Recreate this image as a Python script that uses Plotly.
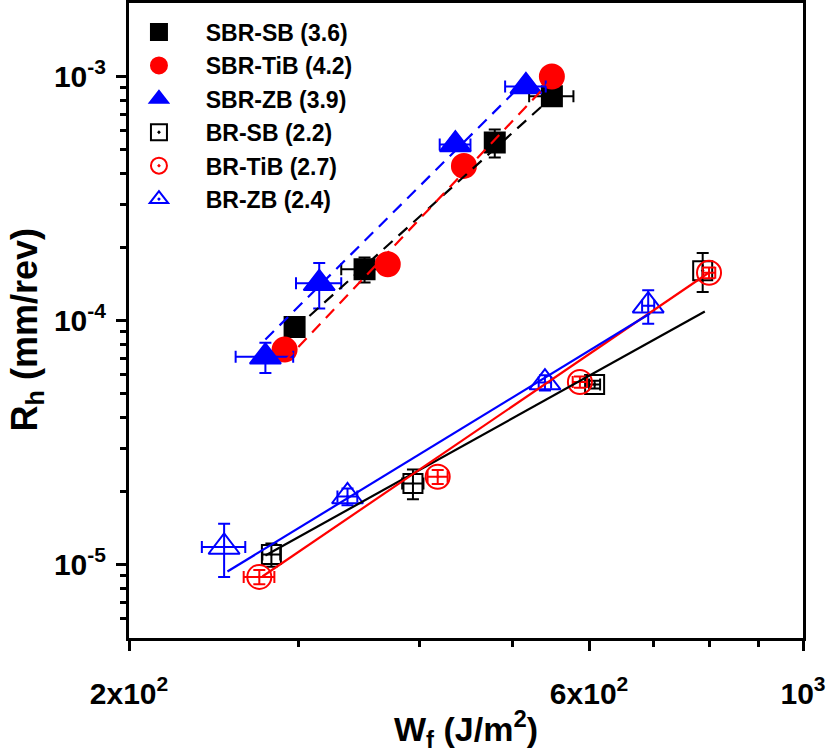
import numpy as np
import plotly.graph_objects as go

# ---------------- data ----------------
series_names = ["SBR-SB (3.6)", "SBR-TiB (4.2)", "SBR-ZB (3.9)",
                "BR-SB (2.2)", "BR-TiB (2.7)", "BR-ZB (2.4)"]

sbr_sb_x = [297, 351, 479, 549]
sbr_sb_y = [9.4e-5, 1.62e-4, 5.36e-4, 8.3e-4]
sbr_sb_xerr = [0, 19, 0, 29]
sbr_sb_yerr = [0, 1.9e-5, 7.0e-5, 3.0e-5]

sbr_tib_x = [290, 371, 445, 549]
sbr_tib_y = [7.6e-5, 1.70e-4, 4.3e-4, 1.0e-3]
sbr_tib_xerr = [0, 0, 0, 12]
sbr_tib_yerr = [0, 1.2e-5, 0, 5.0e-5]

sbr_zb_x = [277, 315, 436, 516]
sbr_zb_y = [7.1e-5, 1.42e-4, 5.26e-4, 9.1e-4]
sbr_zb_xerr = [19, 17, 16, 25]
sbr_zb_yerr = [1.0e-5, 3.0e-5, 3.0e-5, 0]

br_sb_x = [281, 394, 608, 787]
br_sb_y = [1.10e-5, 2.15e-5, 5.47e-5, 1.60e-4]
br_sb_xerr = [6, 10, 8, 0]
br_sb_yerr = [1.2e-6, 3.0e-6, 2.0e-6, 2.9e-5]

br_tib_x = [273, 418, 587, 799]
br_tib_y = [8.9e-6, 2.29e-5, 5.6e-5, 1.57e-4]
br_tib_xerr = [10, 10, 10, 12]
br_tib_yerr = [6e-7, 1.5e-6, 3.0e-6, 8.0e-6]

br_zb_x = [251, 337, 540, 691]
br_zb_y = [1.18e-5, 1.90e-5, 5.57e-5, 1.15e-4]
br_zb_xerr = [13, 8, 8, 10]
br_zb_yerr = [2.9e-6, 1.5e-6, 4.0e-6, 1.8e-5]

# power-law fit lines (end points)
fit_sbr_sb_x = [297, 553]
fit_sbr_sb_y = [9.19e-5, 8.44e-4]
fit_sbr_tib_x = [290, 549]
fit_sbr_tib_y = [6.79e-5, 9.72e-4]
fit_sbr_zb_x = [277, 511]
fit_sbr_zb_y = [8.36e-5, 9.27e-4]
fit_br_sb_x = [277, 791]
fit_br_sb_y = [1.089e-5, 1.089e-4]
fit_br_tib_x = [275, 799]
fit_br_tib_y = [8.93e-6, 1.573e-4]
fit_br_zb_x = [253, 694]
fit_br_zb_y = [9.36e-6, 1.068e-4]

x_tickvals = [200, 600, 1000]
x_ticktext = ["2x10<sup>2</sup>", "6x10<sup>2</sup>", "10<sup>3</sup>"]
x_minor = [300, 400, 500, 700, 800, 900]
y_tickvals = [1e-5, 1e-4, 1e-3]
y_ticktext = ["10<sup>-5</sup>", "10<sup>-4</sup>", "10<sup>-3</sup>"]
y_minor = [6e-6, 7e-6, 8e-6, 9e-6,
           2e-5, 3e-5, 4e-5, 5e-5, 6e-5, 7e-5, 8e-5, 9e-5,
           2e-4, 3e-4, 4e-4, 5e-4, 6e-4, 7e-4, 8e-4, 9e-4]

x_title = "W<sub>f</sub> (J/m<sup>2</sup>)"
y_title = "R<sub>h</sub> (mm/rev)"

# ---------------- figure ----------------
FONT = "Liberation Sans, Arial, sans-serif"
BLACK, RED, BLUE = "#000000", "#ff0000", "#0000ff"
PAD = "\u00a0\u00a0"

fig = go.Figure()

def add_points(name, x, y, xe, ye, color, symbol, size, group):
    fig.add_trace(go.Scatter(
        x=x, y=y, mode="markers", name=PAD + name, legendgroup=group,
        marker=dict(symbol=symbol, size=size, color=color,
                    line=dict(color=color, width=2)),
        error_x=dict(type="data", array=xe, visible=True, color=color,
                     thickness=2, width=6),
        error_y=dict(type="data", array=ye, visible=True, color=color,
                     thickness=2, width=6),
    ))

add_points(series_names[0], sbr_sb_x, sbr_sb_y, sbr_sb_xerr, sbr_sb_yerr, BLACK, "square", 20, "g1")
add_points(series_names[1], sbr_tib_x, sbr_tib_y, sbr_tib_xerr, sbr_tib_yerr, RED, "circle", 24, "g2")
add_points(series_names[2], sbr_zb_x, sbr_zb_y, sbr_zb_xerr, sbr_zb_yerr, BLUE, "triangle-up", 27, "g3")
add_points(series_names[3], br_sb_x, br_sb_y, br_sb_xerr, br_sb_yerr, BLACK, "square-open-dot", 19, "g4")
add_points(series_names[4], br_tib_x, br_tib_y, br_tib_xerr, br_tib_yerr, RED, "circle-open-dot", 24, "g5")
add_points(series_names[5], br_zb_x, br_zb_y, br_zb_xerr, br_zb_yerr, BLUE, "triangle-up-open-dot", 27, "g6")

def add_line(x, y, color, dash):
    fig.add_trace(go.Scatter(
        x=x, y=y, mode="lines", showlegend=False, hoverinfo="skip",
        line=dict(color=color, width=2.2, dash=dash)))

add_line(fit_sbr_sb_x, fit_sbr_sb_y, BLACK, "12px,8px")
add_line(fit_sbr_tib_x, fit_sbr_tib_y, RED, "12px,8px")
add_line(fit_sbr_zb_x, fit_sbr_zb_y, BLUE, "12px,8px")
add_line(fit_br_sb_x, fit_br_sb_y, BLACK, "solid")
add_line(fit_br_tib_x, fit_br_tib_y, RED, "solid")
add_line(fit_br_zb_x, fit_br_zb_y, BLUE, "solid")

axis_common = dict(
    type="log", showgrid=False, zeroline=False, automargin=False,
    showline=True, linewidth=3, linecolor="black", mirror=True,
    ticks="outside", ticklen=10, tickwidth=3, tickcolor="black",
    tickfont=dict(family=FONT, size=30, color="black", weight="bold"),
)

fig.update_xaxes(
    **axis_common,
    range=[np.log10(200), np.log10(1000)],
    tickmode="array", tickvals=x_tickvals, ticktext=x_ticktext,
    minor=dict(tickmode="array", tickvals=x_minor, ticks="outside",
               ticklen=6, tickwidth=3, tickcolor="black"),
    ticklabelstandoff=17,
    title=dict(text=x_title, standoff=13,
               font=dict(family=FONT, size=34, color="black", weight="bold")),
)
fig.update_yaxes(
    **axis_common,
    range=[np.log10(5e-6), np.log10(2e-3)],
    tickmode="array", tickvals=y_tickvals, ticktext=y_ticktext,
    minor=dict(tickmode="array", tickvals=y_minor, ticks="outside",
               ticklen=6, tickwidth=3, tickcolor="black"),
    ticklabelstandoff=4,
)

fig.add_annotation(
    text=y_title, textangle=-90, showarrow=False,
    xref="paper", yref="paper", x=0, y=0.5,
    xanchor="right", yanchor="middle", xshift=-79, yshift=-10,
    borderpad=0,
    font=dict(family=FONT, size=36, color="black", weight="bold"),
)

fig.update_layout(
    width=827, height=753,
    margin=dict(l=129, r=24, t=3, b=115, autoexpand=False),
    paper_bgcolor="white", plot_bgcolor="white",
    showlegend=True,
    legend=dict(x=-0.006, y=0.988, xanchor="left", yanchor="top",
                bgcolor="rgba(0,0,0,0)", borderwidth=0,
                font=dict(family=FONT, size=23, color="black", weight="bold"),
                tracegroupgap=0.5, itemwidth=58),
)

fig.write_html("out.html", config={"displayModeBar": False},
               post_script="document.body.style.margin='0px';")
